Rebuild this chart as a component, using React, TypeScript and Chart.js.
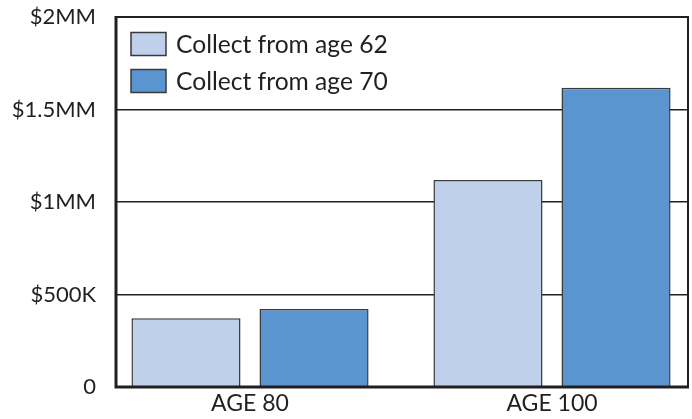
import React, { useEffect, useRef } from "react";
import { Chart, registerables } from "chart.js";

Chart.register(...registerables);

const categories = ["AGE 80", "AGE 100"];
const seriesNames = ["Collect from age 62", "Collect from age 70"];
const collect62 = [371000, 1119000];
const collect70 = [422000, 1618000];
const yTickValues = [0, 500000, 1000000, 1500000, 2000000];
const yTickLabels = ["0", "$500K", "$1MM", "$1.5MM", "$2MM"];

const FONT = "Lato";
const INK = "#231f20";
const EDGE = "#3a3a3c";

const frame = {
  id: "frame",
  afterDatasetsDraw(chart: any) {
    const { ctx, chartArea } = chart;
    ctx.save();
    ctx.strokeStyle = INK;
    ctx.lineWidth = 2;
    ctx.strokeRect(chartArea.left, chartArea.top, chartArea.right - chartArea.left, chartArea.bottom - chartArea.top);
    ctx.lineWidth = 3;
    ctx.beginPath();
    ctx.moveTo(chartArea.left, chartArea.top - 1);
    ctx.lineTo(chartArea.left, chartArea.bottom);
    ctx.lineTo(chartArea.right + 1, chartArea.bottom);
    ctx.stroke();
    ctx.restore();
  },
};

const innerLegend = {
  id: "innerLegend",
  afterDraw(chart: any) {
    const { ctx, chartArea } = chart;
    const boxW = 35;
    const boxH = 23;
    const rowGap = 37;
    const x0 = chartArea.left + 15;
    const y0 = chartArea.top + 15.5;
    ctx.save();
    ctx.font = `24.6px ${FONT}`;
    ctx.textBaseline = "middle";
    ctx.textAlign = "left";
    chart.data.datasets.forEach((d: any, i: number) => {
      const y = y0 + i * rowGap;
      ctx.fillStyle = d.backgroundColor;
      ctx.fillRect(x0, y, boxW, boxH);
      ctx.strokeStyle = EDGE;
      ctx.lineWidth = 1.5;
      ctx.strokeRect(x0, y, boxW, boxH);
      ctx.fillStyle = INK;
      ctx.fillText(d.label, x0 + boxW + 10, y + boxH / 2 + 1);
    });
    ctx.restore();
  },
};

export default function App() {
  const ref = useRef<HTMLCanvasElement | null>(null);
  useEffect(() => {
    if (!ref.current) return;
    const chart = new Chart(ref.current, {
      type: "bar",
      data: {
        datasets: [
          {
            label: seriesNames[0],
            data: collect62.map((v, i) => ({ x: i, y: v })),
            backgroundColor: "#bfd0eb",
            borderColor: EDGE,
            borderWidth: 1.5,
          },
          {
            label: seriesNames[1],
            data: collect70.map((v, i) => ({ x: i, y: v })),
            backgroundColor: "#5b95cf",
            borderColor: EDGE,
            borderWidth: 1.5,
          },
        ],
      },
      plugins: [frame, innerLegend],
      options: {
        animation: false,
        responsive: true,
        maintainAspectRatio: false,
        layout: { padding: { top: 17, right: 4, left: 0, bottom: 0 } },
        datasets: { bar: { categoryPercentage: 0.848, barPercentage: 0.852 } },
        scales: {
          x: {
            type: "linear",
            offset: false,
            min: -0.4437,
            max: 1.4503,
            grid: { display: false, drawTicks: false, offset: false },
            border: { display: false },
            afterBuildTicks: (scale: any) => {
              scale.ticks = categories.map((_, i) => ({ value: i }));
            },
            afterFit: (scale: any) => {
              scale.height = 32;
              scale.paddingLeft = 0;
              scale.paddingRight = 0;
            },
            ticks: {
              padding: 3,
              maxRotation: 0,
              color: INK,
              font: { family: FONT, size: 23 },
              callback: (v: any) => categories[v as number] ?? "",
            },
          },
          y: {
            min: 0,
            max: 2000000,
            afterBuildTicks: (scale: any) => {
              scale.ticks = yTickValues.map((v) => ({ value: v }));
            },
            afterFit: (scale: any) => {
              scale.width = 116;
              scale.paddingTop = 0;
              scale.paddingBottom = 0;
            },
            grid: { color: INK, lineWidth: 1.5, drawTicks: false },
            border: { display: false },
            ticks: {
              padding: 20,
              color: INK,
              font: { family: FONT, size: 22 },
              callback: (v: any) => yTickLabels[yTickValues.indexOf(v as number)] ?? "",
            },
          },
        },
        plugins: {
          tooltip: { enabled: false },
          legend: { display: false },
        },
      },
    });
    return () => chart.destroy();
  }, []);
  return (
    <div style={{ position: "fixed", left: 0, top: 0, width: 692, height: 419, background: "#fff" }}>
      <canvas ref={ref} />
    </div>
  );
}
